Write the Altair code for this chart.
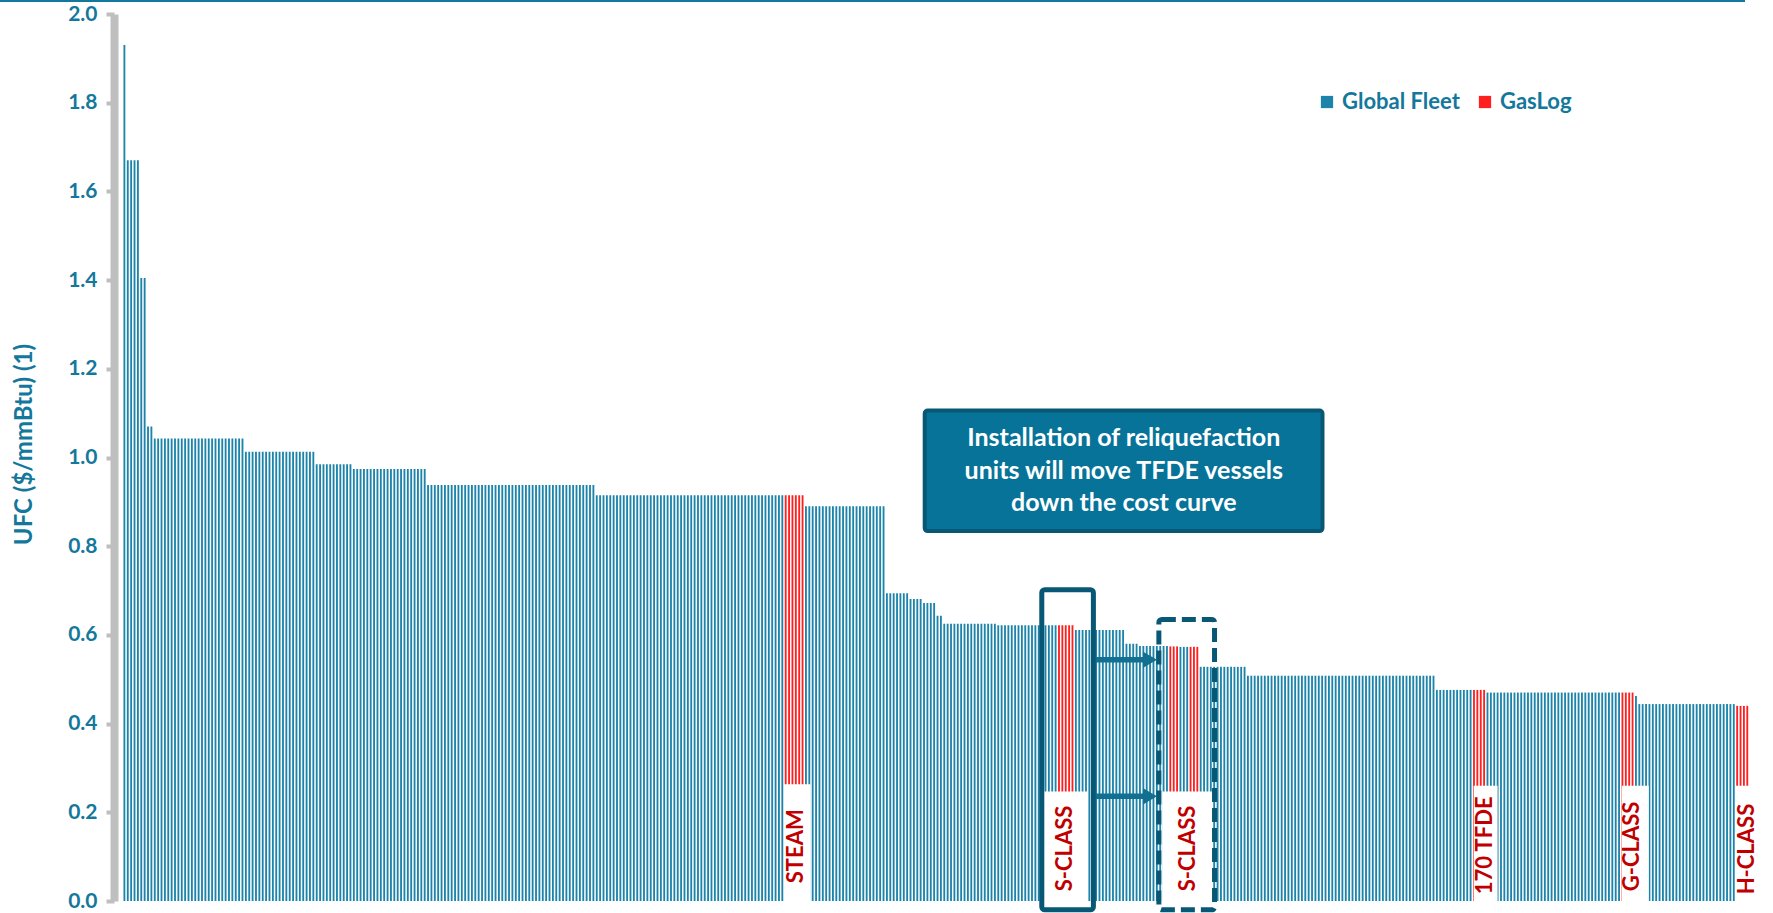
import altair as alt
import pandas as pd

# Unit fuel cost curve: each step is a run of vessels sharing one UFC level
levels = [1.93, 1.67, 1.405, 1.07, 1.043, 1.013, 0.985, 0.974, 0.938, 0.915,
          0.915, 0.890, 0.694, 0.681, 0.672, 0.643, 0.625, 0.622, 0.622, 0.611,
          0.580, 0.575, 0.574, 0.573, 0.573, 0.528, 0.508, 0.476, 0.476, 0.470,
          0.470, 0.462, 0.444, 0.440]
counts = [1, 4, 2, 2, 27, 21, 11, 22, 50, 56,
          6, 24, 7, 4, 4, 2, 16, 18, 5, 15,
          4, 9, 3, 3, 3, 14, 56, 11, 4, 40,
          4, 1, 29, 4]
owners = ["Global Fleet"] * 10 + ["GasLog"] + ["Global Fleet"] * 7 + ["GasLog"] \
    + ["Global Fleet"] * 3 + ["GasLog", "Global Fleet", "GasLog"] \
    + ["Global Fleet"] * 3 + ["GasLog", "Global Fleet", "GasLog"] \
    + ["Global Fleet"] * 2 + ["GasLog"]

# Vessel class tags for the GasLog groups
tag_names = ["STEAM", "S-CLASS", "S-CLASS", "170 TFDE", "G-CLASS", "H-CLASS"]

y_ticks = [0.0, 0.2, 0.4, 0.6, 0.8, 1.0, 1.2, 1.4, 1.6, 1.8, 2.0]

TEAL = "#1c84aa"
AXIS_TEAL = "#13789c"
DARK = "#085875"
RED = "#ff1f1f"
TAGRED = "#c00000"
FONT = "Lato"

rows = []
k = 0
for lv, n, ow in zip(levels, counts, owners):
    for _ in range(n):
        rows.append({"i": k, "ufc": lv, "fleet": ow})
        k += 1
bars_df = pd.DataFrame(rows)

XS = alt.Scale(domain=[-1.6, 482.4], nice=False, zero=False)
YS = alt.Scale(domain=[0, 2], nice=False, zero=False)

bars = alt.Chart(bars_df).mark_bar(size=1.85).encode(
    x=alt.X("i:Q", scale=XS, axis=None),
    y=alt.Y(
        "ufc:Q", scale=YS, title="UFC ($/mmBtu) (1)",
        axis=alt.Axis(
            values=y_ticks, format=".1f", grid=False,
            domainColor="#bfbfbf", domainWidth=8,
            tickColor="#bfbfbf", tickWidth=4, tickSize=8,
            labelPadding=9, labelFont=FONT, labelFontSize=21,
            labelFontWeight="bold", labelColor=AXIS_TEAL,
            titleFont=FONT, titleFontSize=24, titleFontWeight="bold",
            titleColor=AXIS_TEAL, titleAngle=270, titleAlign="center",
            titleBaseline="middle", titleX=-90, titleY=430,
        ),
    ),
    color=alt.Color(
        "fleet:N",
        scale=alt.Scale(domain=["Global Fleet", "GasLog"], range=[TEAL, RED]),
        legend=alt.Legend(
            title=None, orient="none", legendX=1202, legendY=77,
            direction="horizontal", symbolType="square", symbolSize=150,
            symbolStrokeWidth=0, labelFont=FONT, labelFontSize=22,
            labelFontWeight="bold", labelColor=AXIS_TEAL, columnPadding=14,
            labelOffset=4, padding=0,
        ),
    ),
)

# White tag panels over the foot of each GasLog group
tags_df = pd.DataFrame({
    "tag": tag_names,
    "x0": [195.5, 272.6, 307.6, 399.9, 443.8, 477.4],
    "x1": [203.4, 285.6, 322.4, 407.0, 451.8, 482.4],
    "top": [0.263, 0.247, 0.247, 0.26, 0.26, 0.26],
    "tx": [199.0, 278.8, 315.3, 403.2, 446.9, 481.0],
    "ty": [0.04, 0.022, 0.022, 0.015, 0.022, 0.015],
    "base": [0.0] * 6,
})

tag_boxes = alt.Chart(tags_df).mark_rect(fill="white").encode(
    x=alt.X("x0:Q", scale=XS), x2="x1:Q",
    y=alt.Y("base:Q", scale=YS), y2="top:Q",
)
tag_text = alt.Chart(tags_df).mark_text(
    angle=270, align="left", baseline="middle", font=FONT,
    fontSize=22, fontWeight="bold", color=TAGRED,
).encode(
    x=alt.X("tx:Q", scale=XS), y=alt.Y("ty:Q", scale=YS), text="tag:N",
)

# Call-out box
callout_lines = ["Installation of reliquefaction",
                 "units will move TFDE vessels",
                 "down the cost curve"]
callout_box = alt.Chart(pd.DataFrame({"x0": [237.2], "x1": [355.1],
                                      "y0": [0.834], "y1": [1.106]})).mark_rect(
    fill="#077399", stroke=DARK, strokeWidth=4, cornerRadius=3,
).encode(
    x=alt.X("x0:Q", scale=XS), x2="x1:Q",
    y=alt.Y("y0:Q", scale=YS), y2="y1:Q",
)
callout_text = alt.Chart(pd.DataFrame({
    "line": callout_lines, "x": [296.2] * 3, "y": [1.043, 0.969, 0.897],
})).mark_text(
    align="center", baseline="middle", font=FONT, fontSize=25,
    fontWeight="bold", color="white",
).encode(
    x=alt.X("x:Q", scale=XS), y=alt.Y("y:Q", scale=YS), text="line:N",
)

# Frames around the two S-CLASS positions
solid_frame = alt.Chart(pd.DataFrame({"x0": [271.9], "x1": [287.2],
                                      "y0": [-0.02], "y1": [0.702]})).mark_rect(
    fillOpacity=0, stroke=DARK, strokeWidth=5, cornerRadius=3,
).encode(
    x=alt.X("x0:Q", scale=XS), x2="x1:Q",
    y=alt.Y("y0:Q", scale=YS), y2="y1:Q",
)
dashed_frame = alt.Chart(pd.DataFrame({"x0": [306.6], "x1": [323.1],
                                       "y0": [-0.02], "y1": [0.635]})).mark_rect(
    fillOpacity=0, stroke=DARK, strokeWidth=5, cornerRadius=3,
    strokeDash=[14, 6],
).encode(
    x=alt.X("x0:Q", scale=XS), x2="x1:Q",
    y=alt.Y("y0:Q", scale=YS), y2="y1:Q",
)

# Arrows from the current to the reliquefied position
arrows_df = pd.DataFrame({"x0": [287.9, 287.9], "x1": [303.0, 303.0],
                          "tip": [304.0, 304.0], "y": [0.544, 0.236]})
arrow_shafts = alt.Chart(arrows_df).mark_rule(strokeWidth=5.5, color="#126f90").encode(
    x=alt.X("x0:Q", scale=XS), x2="x1:Q", y=alt.Y("y:Q", scale=YS),
)
arrow_heads = alt.Chart(arrows_df).mark_point(
    shape="triangle-right", filled=True, size=260, color="#126f90", opacity=1,
).encode(
    x=alt.X("tip:Q", scale=XS), y=alt.Y("y:Q", scale=YS),
)

# Thin rule along the top edge of the page
top_rule = alt.Chart(pd.DataFrame({"a": [0]})).mark_rule(
    color=AXIS_TEAL, strokeWidth=2,
).encode(x=alt.value(-114), x2=alt.value(1631), y=alt.value(-13))

chart = alt.layer(
    bars, tag_boxes, tag_text, callout_box, callout_text,
    solid_frame, dashed_frame, arrow_shafts, arrow_heads, top_rule,
).properties(
    width=1643, height=887,
    autosize=alt.AutoSizeParams(type="none"),
    padding={"left": 114, "top": 14, "right": 16, "bottom": 12},
).configure(font=FONT).configure_view(stroke=None)

chart.save("out.html", embed_options={"renderer": "svg", "actions": False})
